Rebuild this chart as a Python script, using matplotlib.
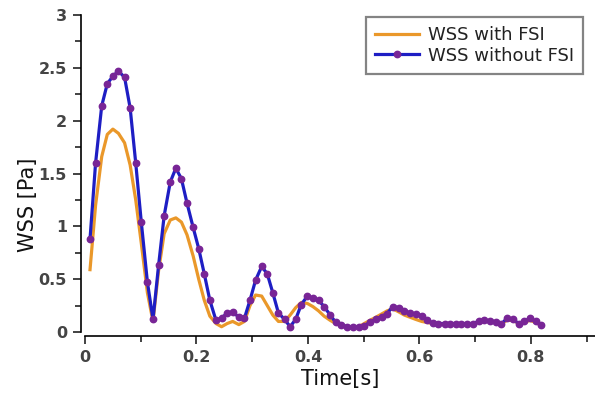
import matplotlib
matplotlib.use("Agg")
import matplotlib.pyplot as plt
from matplotlib.ticker import MultipleLocator

time = [0.009, 0.019, 0.030, 0.040, 0.050, 0.060, 0.071, 0.081, 0.091, 0.101,
        0.112, 0.122, 0.132, 0.142, 0.153, 0.163, 0.173, 0.183, 0.194, 0.204,
        0.214, 0.224, 0.235, 0.245, 0.255, 0.265, 0.276, 0.286, 0.296, 0.306,
        0.317, 0.327, 0.337, 0.347, 0.358, 0.368, 0.378, 0.388, 0.399, 0.409,
        0.419, 0.429, 0.440, 0.450, 0.460, 0.470, 0.481, 0.491, 0.501, 0.511,
        0.522, 0.532, 0.542, 0.552, 0.563, 0.573, 0.583, 0.593, 0.604, 0.614,
        0.624, 0.634, 0.645, 0.655, 0.665, 0.675, 0.686, 0.696, 0.706, 0.716,
        0.727, 0.737, 0.747, 0.757, 0.768, 0.778, 0.788, 0.798, 0.809, 0.819]

wss_fsi = [0.59, 1.20, 1.66, 1.87, 1.92, 1.88, 1.79, 1.58, 1.25, 0.84,
           0.37, 0.10, 0.58, 0.93, 1.06, 1.08, 1.04, 0.92, 0.72, 0.50,
           0.30, 0.15, 0.08, 0.05, 0.08, 0.10, 0.07, 0.10, 0.25, 0.35,
           0.34, 0.25, 0.16, 0.10, 0.10, 0.16, 0.23, 0.28, 0.27, 0.24,
           0.20, 0.15, 0.11, 0.08, 0.06, 0.04, 0.04, 0.05, 0.08, 0.11,
           0.14, 0.17, 0.20, 0.22, 0.19, 0.16, 0.14, 0.12, 0.10, 0.09,
           0.08, 0.08, 0.08, 0.08, 0.08, 0.08, 0.08, 0.08, 0.09, 0.10,
           0.10, 0.09, 0.08, 0.11, 0.11, 0.08, 0.09, 0.11, 0.09, 0.06]

wss_nofsi = [0.88, 1.60, 2.14, 2.35, 2.42, 2.47, 2.41, 2.12, 1.60, 1.04,
             0.47, 0.12, 0.63, 1.10, 1.42, 1.55, 1.45, 1.22, 0.99, 0.79,
             0.55, 0.30, 0.11, 0.13, 0.18, 0.19, 0.14, 0.13, 0.30, 0.49,
             0.62, 0.55, 0.37, 0.18, 0.12, 0.05, 0.12, 0.26, 0.34, 0.32,
             0.30, 0.24, 0.16, 0.09, 0.07, 0.05, 0.045, 0.05, 0.06, 0.09,
             0.125, 0.145, 0.175, 0.24, 0.23, 0.20, 0.177, 0.17, 0.155, 0.11,
             0.085, 0.08, 0.08, 0.08, 0.08, 0.08, 0.08, 0.08, 0.10, 0.11,
             0.107, 0.095, 0.075, 0.13, 0.12, 0.08, 0.10, 0.13, 0.10, 0.066]

xticks = [0, 0.2, 0.4, 0.6, 0.8]
xticklabels = ["0", "0.2", "0.4", "0.6", "0.8"]
yticks = [0, 0.5, 1, 1.5, 2, 2.5, 3]
yticklabels = ["0", "0.5", "1", "1.5", "2", "2.5", "3"]

plt.rcParams['font.family'] = ['DejaVu Sans']

fig = plt.figure(figsize=(5.95, 3.98), dpi=100)
ax = fig.add_axes([85 / 595, (398 - 332) / 398, 510 / 595, (332 - 15) / 398])

ax.plot(time, wss_fsi, color='#EA982A', lw=2.3, label='WSS with FSI', zorder=2)
ax.plot(time, wss_nofsi, color='#1E1EC4', lw=2.3, marker='o', ms=4.6,
        mfc='#782596', mec='#782596', label='WSS without FSI', zorder=3)

ax.set_xlim(0, 0.915)
ax.set_ylim(0, 3)

for s in ['top', 'right']:
    ax.spines[s].set_visible(False)
ax.spines['left'].set_position(('outward', 3))
ax.spines['bottom'].set_position(('outward', 3))
ax.spines['left'].set_linewidth(1.2)
ax.spines['bottom'].set_linewidth(1.2)

ax.set_xticks(xticks)
ax.set_xticklabels(xticklabels)
ax.set_yticks(yticks)
ax.set_yticklabels(yticklabels)
ax.xaxis.set_minor_locator(MultipleLocator(0.1))
ax.yaxis.set_minor_locator(MultipleLocator(0.25))
ax.tick_params(which='major', direction='out', length=6, width=1.2, color='#222')
ax.tick_params(which='minor', direction='out', length=4, width=1.2, color='#222')
ax.tick_params(axis='both', which='major', labelsize=11.5, labelcolor='#444', pad=4)
for lab in ax.get_xticklabels() + ax.get_yticklabels():
    lab.set_fontweight('bold')

ax.set_xlabel('Time[s]', fontsize=15, labelpad=3, color='#111')
ax.set_ylabel('WSS [Pa]', fontsize=15, color='#111')
ax.yaxis.set_label_coords(-0.092, 0.40)

leg = ax.legend(loc='upper right', bbox_to_anchor=(583 / 595, 1 - 17 / 398),
                bbox_transform=fig.transFigure, fancybox=False, frameon=True,
                fontsize=13, handlelength=2.4, borderpad=0.5, labelspacing=0.15,
                handletextpad=0.5, borderaxespad=0)
leg.get_frame().set_edgecolor('#666666')
leg.get_frame().set_linewidth(1.6)
for t in leg.get_texts():
    t.set_color('#222')

fig.savefig('out.png', dpi=100)
